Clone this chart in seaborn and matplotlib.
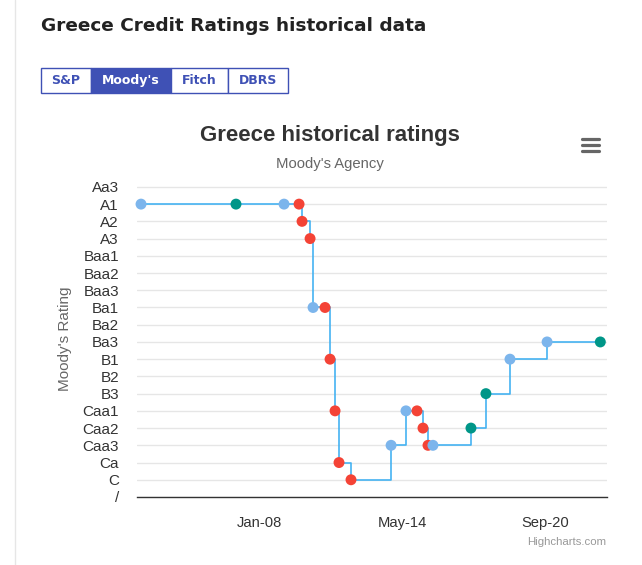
import matplotlib
matplotlib.use('Agg')
import matplotlib.pyplot as plt
from matplotlib.lines import Line2D
from matplotlib.patches import Rectangle
import seaborn as sns
import pandas as pd

# ---------------- data ----------------
ratings = ['Aa3', 'A1', 'A2', 'A3', 'Baa1', 'Baa2', 'Baa3', 'Ba1', 'Ba2', 'Ba3',
           'B1', 'B2', 'B3', 'Caa1', 'Caa2', 'Caa3', 'Ca', 'C', '/']
dates = ['2002-10-10', '2006-12-24', '2009-02-08', '2009-10-09', '2009-11-26',
         '2010-04-05', '2010-05-23', '2010-12-03', '2011-02-22', '2011-05-14',
         '2011-07-17', '2012-01-27', '2013-11-05', '2014-07-04', '2014-12-29',
         '2015-04-05', '2015-06-25', '2015-09-13', '2017-05-20', '2018-01-17',
         '2019-02-10', '2020-10-02', '2023-02-10']
rating_values = ['A1', 'A1', 'A1', 'A1', 'A2', 'A3', 'Ba1', 'Ba1', 'B1', 'Caa1',
                 'Ca', 'C', 'Caa3', 'Caa1', 'Caa1', 'Caa2', 'Caa3', 'Caa3', 'Caa2',
                 'B3', 'B1', 'Ba3', 'Ba3']
outlook = ['Positive', 'Stable', 'Positive', 'Negative', 'Negative', 'Negative',
           'Positive', 'Negative', 'Negative', 'Negative', 'Negative', 'Negative',
           'Positive', 'Positive', 'Negative', 'Negative', 'Negative', 'Positive',
           'Stable', 'Stable', 'Positive', 'Positive', 'Stable']
outlook_colors = {'Positive': '#7cb5ec', 'Stable': '#009688', 'Negative': '#f44336'}
x_ticks = ['2008-01-01', '2014-05-01', '2020-09-01']
x_tick_labels = ['Jan-08', 'May-14', 'Sep-20']
x_range = ['2002-08-06', '2023-05-29']
buttons = ["S&P", "Moody's", "Fitch", "DBRS"]
active_button = "Moody's"

page_title = 'Greece Credit Ratings historical data'
chart_title = 'Greece historical ratings'
chart_subtitle = "Moody's Agency"
y_title = "Moody's Rating"
credit = 'Highcharts.com'

df = pd.DataFrame({
    'date': pd.to_datetime(dates),
    'rating': rating_values,
    'outlook': outlook,
})
df['pos'] = [ratings.index(r) for r in df['rating']]

# ---------------- figure ----------------
sns.set_theme(style='white')
plt.rcParams['font.family'] = ['Liberation Sans', 'DejaVu Sans']

W, H = 642, 565
fig = plt.figure(figsize=(W / 100, H / 100), dpi=100)
fig.patch.set_facecolor('white')

def fx(px):
    return px / W

def fy(py):
    return 1 - py / H

ax = fig.add_axes([fx(137), fy(497), fx(607) - fx(137), fy(180) - fy(497)])
ax.set_facecolor('white')

sns.lineplot(data=df, x='date', y='pos', ax=ax, color='#45b3f2', lw=1.2,
             drawstyle='steps-post', estimator=None, sort=False, zorder=2)
sns.scatterplot(data=df, x='date', y='pos', hue='outlook', palette=outlook_colors,
                s=62, edgecolor='none', linewidth=0, legend=False, ax=ax, zorder=3,
                clip_on=False)

ax.set_ylim(len(ratings) - 1, -0.4)
ax.set_yticks(range(len(ratings)))
ax.set_yticklabels(ratings, fontsize=11, color='#333333')
ax.yaxis.grid(True, color='#e6e6e6', lw=1)
ax.xaxis.grid(False)

ax.set_xlim(pd.to_datetime(x_range[0]), pd.to_datetime(x_range[1]))
ax.set_xticks(pd.to_datetime(x_ticks))
ax.set_xticklabels(x_tick_labels, fontsize=10.6, color='#333333')

for s in ['top', 'right', 'left']:
    ax.spines[s].set_visible(False)
ax.spines['bottom'].set_color('#333333')
ax.spines['bottom'].set_linewidth(1)
ax.tick_params(axis='y', length=0, pad=13)
ax.tick_params(axis='x', length=7, width=1, color='#555555', direction='out', pad=7)

ax.set_xlabel('')
ax.set_ylabel(y_title, fontsize=11, color='#666666')
ax.yaxis.set_label_coords((72 - 137) / 470, 0.5)

# titles
fig.text(fx(330), fy(136), chart_title, ha='center', va='center', fontsize=16,
         weight='bold', color='#333333')
fig.text(fx(330), fy(164), chart_subtitle, ha='center', va='center', fontsize=10.7,
         color='#666666')
fig.text(fx(41), fy(26), page_title, ha='left', va='center', fontsize=13.3,
         weight='bold', color='#222222', family='DejaVu Sans')
fig.text(fx(606), fy(542), credit, ha='right', va='center', fontsize=8.2,
         color='#999999')

# page border line
fig.add_artist(Line2D([fx(15), fx(15)], [0, 1], color='#e6e6e6', lw=1))

# buttons
edges = [41, 91, 171, 228, 288]
for i, b in enumerate(buttons):
    x0, x1 = edges[i], edges[i + 1]
    active = b == active_button
    fig.add_artist(Rectangle((fx(x0), fy(93)), fx(x1) - fx(x0), fy(68) - fy(93),
                             transform=fig.transFigure,
                             facecolor='#3f51b5' if active else 'white',
                             edgecolor='#3f51b5', lw=1))
    fig.text(fx((x0 + x1) / 2), fy(80.5), b, ha='center', va='center', fontsize=9,
             weight='bold', color='white' if active else '#3f51b5',
             family='DejaVu Sans')

# hamburger menu
for yy in [139, 145, 151]:
    fig.add_artist(Line2D([fx(582), fx(599)], [fy(yy), fy(yy)], color='#666666',
                          lw=2.3, solid_capstyle='round'))

fig.savefig('out.png', dpi=100, facecolor='white')
